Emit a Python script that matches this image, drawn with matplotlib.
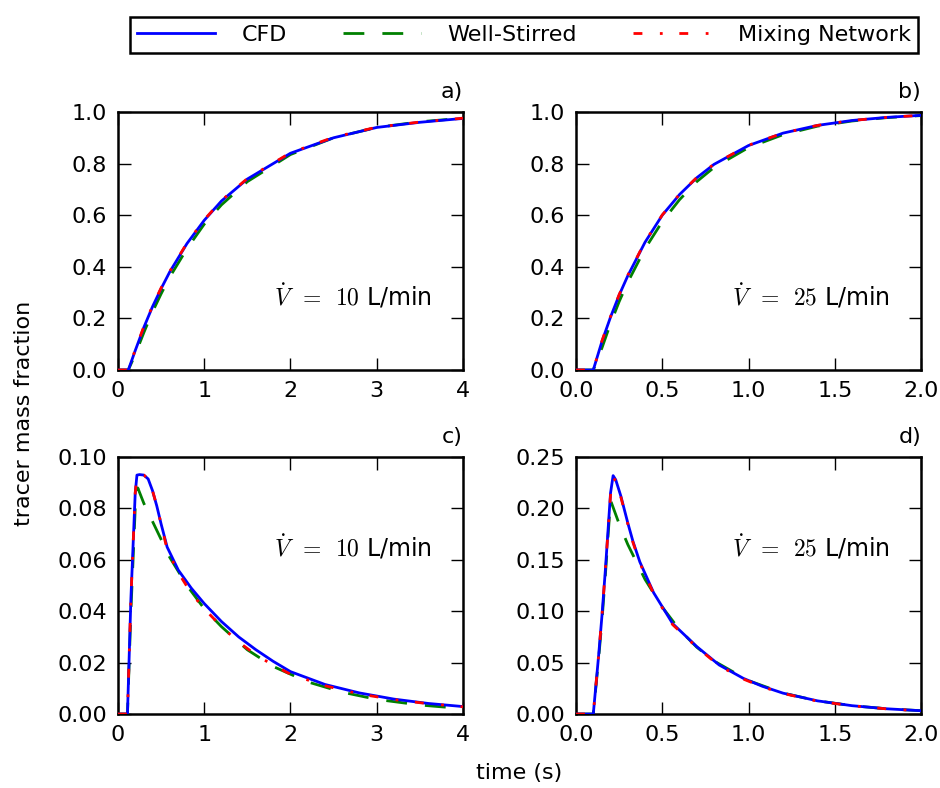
import matplotlib
matplotlib.use("Agg")
import matplotlib.pyplot as plt

plt.rcParams['font.family'] = ['DejaVu Sans']
plt.rcParams['mathtext.fontset'] = 'cm'
plt.rcParams['font.size'] = 16

# a) step response, 10 L/min
t_a = [0, 0.12, 0.2, 0.3, 0.4, 0.5, 0.6, 0.8, 1.0, 1.2, 1.5, 2.0, 2.5, 3.0, 3.5, 4.0]
cfd_a = [0, 0, 0.075, 0.165, 0.245, 0.315, 0.38, 0.49, 0.58, 0.655, 0.74, 0.84, 0.90, 0.94, 0.96, 0.975]
ws_a = [0, 0, 0.06, 0.145, 0.225, 0.295, 0.36, 0.47, 0.565, 0.64, 0.73, 0.835, 0.90, 0.94, 0.962, 0.976]
mn_a = [0, 0, 0.078, 0.168, 0.248, 0.318, 0.382, 0.492, 0.582, 0.657, 0.742, 0.842, 0.902, 0.941, 0.961, 0.976]

# b) step response, 25 L/min
t_b = [0, 0.1, 0.15, 0.2, 0.25, 0.3, 0.4, 0.5, 0.6, 0.7, 0.8, 1.0, 1.2, 1.4, 1.6, 1.8, 2.0]
cfd_b = [0, 0, 0.11, 0.205, 0.29, 0.365, 0.495, 0.60, 0.68, 0.745, 0.797, 0.87, 0.918, 0.948, 0.967, 0.979, 0.987]
ws_b = [0, 0, 0.085, 0.18, 0.265, 0.34, 0.47, 0.575, 0.66, 0.73, 0.785, 0.862, 0.912, 0.945, 0.965, 0.978, 0.986]
mn_b = [0, 0, 0.112, 0.207, 0.292, 0.367, 0.497, 0.601, 0.681, 0.746, 0.798, 0.871, 0.918, 0.948, 0.967, 0.979, 0.987]

# c) pulse response, 10 L/min
t_c = [0, 0.11, 0.15, 0.2, 0.22, 0.25, 0.3, 0.35, 0.4, 0.45, 0.5, 0.57, 0.7, 0.85, 1.0, 1.2, 1.4, 1.6, 1.8, 2.0, 2.4, 2.8, 3.2, 3.6, 4.0]
cfd_c = [0, 0, 0.045, 0.086, 0.093, 0.0932, 0.093, 0.0915, 0.087, 0.081, 0.074, 0.065, 0.056, 0.049, 0.043, 0.036, 0.030, 0.025, 0.0205, 0.0165, 0.0115, 0.0082, 0.0058, 0.0041, 0.0029]
mn_c = [0, 0, 0.045, 0.086, 0.093, 0.0932, 0.093, 0.0915, 0.087, 0.081, 0.074, 0.064, 0.055, 0.047, 0.041, 0.034, 0.028, 0.023, 0.019, 0.0155, 0.011, 0.0078, 0.0056, 0.004, 0.0028]
t_c_ws = [0, 0.11, 0.15, 0.2, 0.23, 0.3, 0.4, 0.5, 0.6, 0.8, 1.0, 1.2, 1.5, 1.8, 2.2, 2.6, 3.0, 3.5, 4.0]
ws_c = [0, 0, 0.040, 0.080, 0.088, 0.082, 0.075, 0.068, 0.061, 0.050, 0.041, 0.034, 0.025, 0.0185, 0.0125, 0.0085, 0.0057, 0.0035, 0.0021]

# d) pulse response, 25 L/min
t_d = [0, 0.1, 0.13, 0.15, 0.17, 0.2, 0.215, 0.23, 0.26, 0.3, 0.33, 0.37, 0.45, 0.56, 0.7, 0.83, 0.97, 1.08, 1.2, 1.4, 1.6, 1.8, 2.0]
cfd_d = [0, 0, 0.055, 0.095, 0.14, 0.215, 0.232, 0.228, 0.212, 0.186, 0.168, 0.148, 0.118, 0.088, 0.0656, 0.0477, 0.0347, 0.027, 0.0203, 0.0128, 0.0081, 0.0051, 0.0032]
mn_d = [0, 0, 0.055, 0.095, 0.14, 0.213, 0.230, 0.227, 0.211, 0.185, 0.167, 0.147, 0.117, 0.087, 0.065, 0.047, 0.034, 0.0265, 0.020, 0.0125, 0.008, 0.005, 0.0031]
t_d_ws = [0, 0.1, 0.13, 0.15, 0.17, 0.2, 0.25, 0.3, 0.4, 0.5, 0.6, 0.7, 0.8, 1.0, 1.2, 1.4, 1.6, 1.8, 2.0]
ws_d = [0, 0, 0.052, 0.090, 0.135, 0.208, 0.185, 0.165, 0.131, 0.104, 0.082, 0.065, 0.0516, 0.0325, 0.0204, 0.0128, 0.0081, 0.0051, 0.0032]

panels = [
    ('a)', t_a, cfd_a, t_a, ws_a, mn_a, 4, 1.0, [0, 1, 2, 3, 4], [0.0, 0.2, 0.4, 0.6, 0.8, 1.0], '10'),
    ('b)', t_b, cfd_b, t_b, ws_b, mn_b, 2.0, 1.0, [0.0, 0.5, 1.0, 1.5, 2.0], [0.0, 0.2, 0.4, 0.6, 0.8, 1.0], '25'),
    ('c)', t_c, cfd_c, t_c_ws, ws_c, mn_c, 4, 0.10, [0, 1, 2, 3, 4], [0.00, 0.02, 0.04, 0.06, 0.08, 0.10], '10'),
    ('d)', t_d, cfd_d, t_d_ws, ws_d, mn_d, 2.0, 0.25, [0.0, 0.5, 1.0, 1.5, 2.0], [0.00, 0.05, 0.10, 0.15, 0.20, 0.25], '25'),
]
positions = [
    [0.1255, 0.5305, 0.367, 0.3274],
    [0.6128, 0.5305, 0.367, 0.3274],
    [0.1255, 0.0939, 0.367, 0.326],
    [0.6128, 0.0939, 0.367, 0.326],
]
text_y = [0.285, 0.285, 0.65, 0.65]

fig = plt.figure(figsize=(9.4, 7.88), dpi=100)

for i, (lab, t, cfd, tws, ws, mn, xmax, ymax, xt, yt, flow) in enumerate(panels):
    ax = fig.add_axes(positions[i])
    l_ws, = ax.plot(tws, ws, color='green', lw=2, dashes=(7.5, 6.5), zorder=2, label='Well-Stirred')
    l_cfd, = ax.plot(t, cfd, color='blue', lw=2, zorder=3, label='CFD')
    l_mn, = ax.plot(t, mn, color='red', lw=2, dashes=(3.2, 6.3, 1, 6), zorder=4, label='Mixing Network')
    ax.set_xlim(0, xmax)
    ax.set_ylim(0, ymax)
    ax.set_xticks(xt)
    ax.set_yticks(yt)
    if ymax < 0.5:
        ax.set_yticklabels([f'{v:.2f}' for v in yt])
    else:
        ax.set_yticklabels([f'{v:.1f}' for v in yt])
    if xmax == 4:
        ax.set_xticklabels([f'{v:d}' for v in xt])
    else:
        ax.set_xticklabels([f'{v:.1f}' for v in xt])
    ax.tick_params(direction='in', length=9, width=1, top=True, right=True, pad=8, labelsize=16)
    for s in ax.spines.values():
        s.set_linewidth(1.8)
    ax.set_title(lab, loc='right', fontsize=16, pad=10)
    ax.text(0.91, text_y[i], r'$\dot{V}\ \,=\ \,' + flow + r'$ L/min', transform=ax.transAxes,
            ha='right', va='center', fontsize=17)

leg = fig.legend([l_cfd, l_ws, l_mn], ['CFD', 'Well-Stirred', 'Mixing Network'],
                 loc='lower left', bbox_to_anchor=(0.138, 0.933, 0.839, 0.049),
                 mode='expand', ncol=3, fontsize=16, handlelength=3.5, handletextpad=1.2,
                 borderpad=0.35, borderaxespad=0, fancybox=False, framealpha=1)
leg.get_frame().set_edgecolor('black')
leg.get_frame().set_linewidth(1.8)

fig.text(0.5525, 0.006, 'time (s)', ha='center', va='bottom', fontsize=16)
fig.text(0.015, 0.476, 'tracer mass fraction', rotation=90, ha='left', va='center', fontsize=16)

fig.savefig('out.png', dpi=100)
